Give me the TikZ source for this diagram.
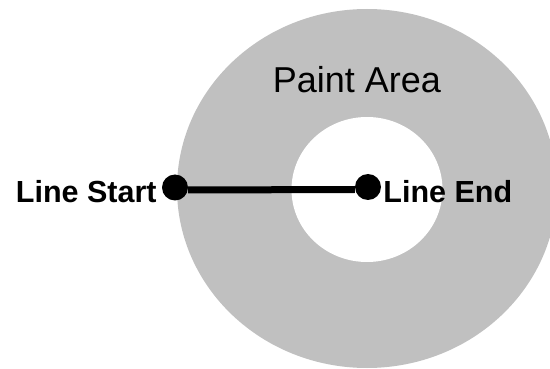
\documentclass[tikz,border=0pt]{standalone}
\usepackage{fontspec}
\setmainfont{Liberation Sans}
\usetikzlibrary{positioning}
\definecolor{paintGray}{HTML}{C0C0C0}
\tikzset{
  endpt/.style={circle, fill=black, inner sep=0pt, minimum size=26pt},
  ptlabel/.style={font=\bfseries\fontsize{30.5}{36}\selectfont, inner sep=0pt, yshift=-4.5pt},
  arealabel/.style={font=\fontsize{36}{42}\selectfont, inner sep=0pt},
  seg/.style={line width=7pt, draw=black}
}
\begin{document}
\begin{tikzpicture}[x=1pt,y=-1pt]
  \useasboundingbox (0,0) rectangle (550,369);
  \clip (0,0) rectangle (550,369);
  % paint ring
  \fill[paintGray] (367,188.5) ellipse [x radius=190, y radius=179.5];
  \fill[white] (367,189.5) ellipse [x radius=75.5, y radius=72.5];
  \node[arealabel] (area) at (357,80) {Paint Area};

  % line and end points
  \node[endpt] (start) at (175,187.5) {};
  \node[endpt] (end)   at (368,187) {};
  \draw[seg] ([yshift=-2.5pt]start.east) -- ([yshift=-2.5pt]end.west);
  \node[ptlabel, left=5pt of start]  (startlbl) {Line Start};
  \node[ptlabel, right=2pt of end]   (endlbl)   {Line End};
\end{tikzpicture}
\end{document}
